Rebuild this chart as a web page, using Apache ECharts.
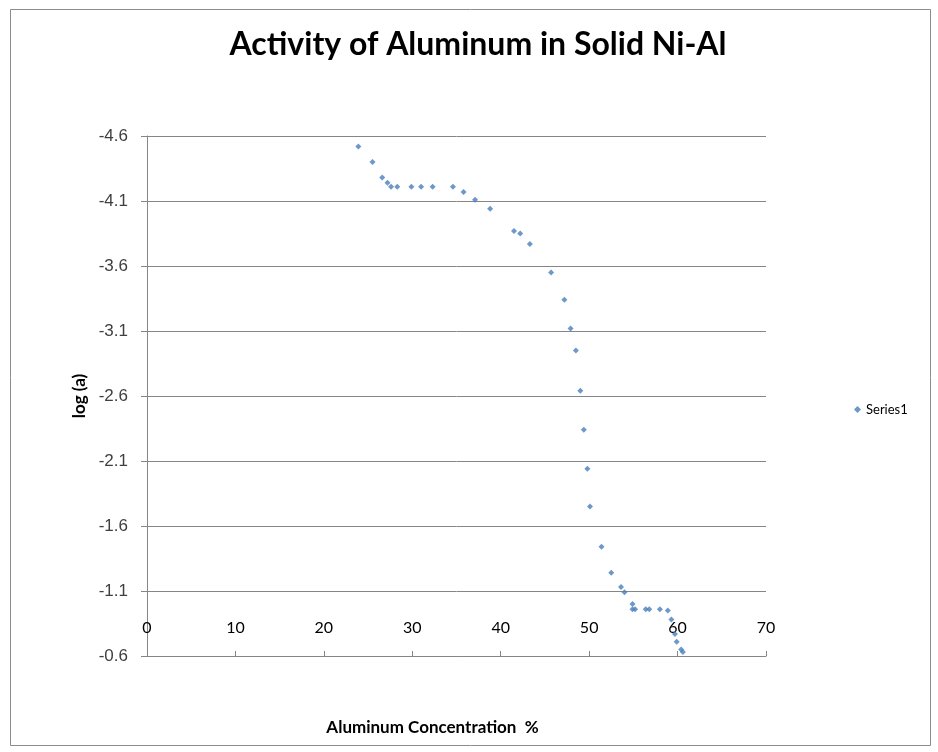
<!DOCTYPE html>
<html>
<head>
<meta charset="utf-8">
<script src="https://cdn.jsdelivr.net/npm/echarts@6/dist/echarts.min.js"></script>
<style>
  html, body { margin: 0; padding: 0; background: #fff; }
  #chart { width: 938px; height: 752px; }
</style>
</head>
<body>
<div id="chart"></div>
<script>
// aluminum concentration (%)
const alConc = [
  23.9, 25.5, 26.6, 27.2, 27.6, 28.3, 29.9, 31.0, 32.3, 34.6,
  35.8, 37.1, 38.8, 41.5, 42.2, 43.3, 45.7, 47.2, 47.9, 48.5,
  49.0, 49.4, 49.8, 50.1, 51.4, 52.5, 53.6, 54.0, 54.9, 54.9,
  55.2, 56.4, 56.8, 58.0, 58.9, 59.3, 59.7, 59.9, 60.4, 60.6
]
// log of activity
const logA = [
  -4.52, -4.40, -4.28, -4.24, -4.21, -4.21, -4.21, -4.21, -4.21, -4.21,
  -4.17, -4.11, -4.04, -3.87, -3.85, -3.77, -3.55, -3.34, -3.12, -2.95,
  -2.64, -2.34, -2.04, -1.75, -1.44, -1.24, -1.13, -1.09, -1.00, -0.96,
  -0.96, -0.96, -0.96, -0.96, -0.95, -0.88, -0.77, -0.71, -0.65, -0.63
]
const seriesName = 'Series1'

const chart = echarts.init(document.getElementById('chart'))

const option = {
  animation: false,
  backgroundColor: '#fff',
  title: {
    text: 'Activity of Aluminum in Solid Ni-Al',
    left: 473,
    top: 24,
    textAlign: 'center',
    textStyle: {
      fontFamily: 'Lato',
      fontWeight: 'bold',
      fontSize: 32,
      color: '#000'
    }
  },
  legend: {
    data: [seriesName],
    left: 849,
    top: 398,
    icon: 'diamond',
    itemWidth: 7,
    itemHeight: 7,
    itemGap: 4,
    textStyle: {
      fontFamily: 'Lato',
      fontSize: 13,
      color: '#000'
    }
  },
  grid: {
    left: 147,
    right: 172,
    top: 136,
    bottom: 96
  },
  xAxis: {
    type: 'value',
    min: 0,
    max: 70,
    interval: 10,
    name: 'Aluminum Concentration  %',
    nameLocation: 'middle',
    nameGap: 63,
    nameTextStyle: {
      fontFamily: 'Lato',
      fontWeight: 'bold',
      fontSize: 17,
      color: '#000',
      padding: [0, 48, 0, 0]
    },
    axisLine: { show: true, lineStyle: { color: '#868686' } },
    axisTick: { show: true, inside: true, length: 5, lineStyle: { color: '#868686' } },
    axisLabel: {
      inside: true,
      margin: 20,
      fontFamily: 'Lato',
      fontSize: 16,
      color: '#000'
    },
    splitLine: { show: false }
  },
  yAxis: {
    type: 'value',
    inverse: true,
    min: -4.6,
    max: -0.6,
    interval: 0.5,
    name: 'log (a)',
    nameLocation: 'middle',
    nameRotate: 90,
    nameGap: 56,
    nameTextStyle: {
      fontFamily: 'Lato',
      fontWeight: 'bold',
      fontSize: 17,
      color: '#000'
    },
    axisLine: { show: true, lineStyle: { color: '#868686' } },
    axisTick: { show: true, length: 6, lineStyle: { color: '#868686' } },
    axisLabel: {
      margin: 19,
      fontFamily: 'Liberation Sans',
      fontSize: 17,
      color: '#404040',
      formatter: v => v.toFixed(1)
    },
    splitLine: { show: true, lineStyle: { color: '#868686', width: 1 } }
  },
  graphic: [
    {
      type: 'rect',
      shape: { x: 10.5, y: 9.5, width: 920, height: 736 },
      style: { fill: 'none', stroke: '#8c8c8c', lineWidth: 1 },
      silent: true,
      z: -1
    }
  ],
  series: [
    {
      name: seriesName,
      type: 'scatter',
      symbol: 'diamond',
      symbolSize: 6,
      itemStyle: { color: '#4a7ebb' },
      data: alConc.map((x, i) => [x, logA[i]])
    }
  ]
}

chart.setOption(option)
</script>
</body>
</html>
